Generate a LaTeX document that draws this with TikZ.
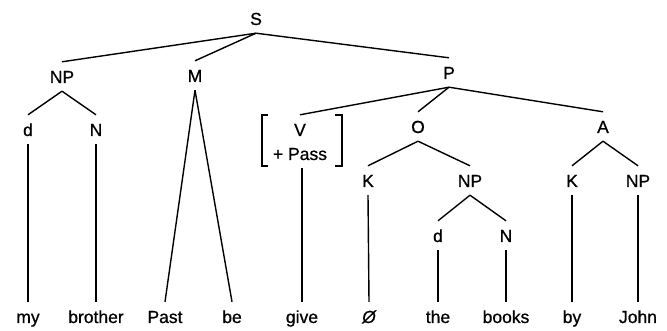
\documentclass[tikz,border=0pt]{standalone}
\usepackage{fontspec}
\setmainfont[FakeBold=0.8]{Liberation Sans}
\begin{document}
\begin{tikzpicture}[x=1pt,y=-1pt,
  lbl/.style={font=\fontsize{17.5}{20}\selectfont, inner sep=0pt, text height=21pt, text depth=8pt, anchor=base},
  edge/.style={line width=1.4pt},
  brk/.style={line width=1.4pt}]
\useasboundingbox (0,0) rectangle (667,331);
% internal nodes
\node[lbl] (S) at (256,25) {S};
\node[lbl] (NP1) at (62,83) {NP};
\node[lbl] (M) at (195,82) {M};
\node[lbl] (P) at (449,79) {P};
\node[lbl] (d1) at (28,136) {d};
\node[lbl] (N1) at (96,136) {N};
\node[lbl] (V) at (300,136) {V};
\node[lbl] (pass) at (300,160) {+ Pass};
\node[lbl] (O) at (418,133) {O};
\node[lbl] (A) at (603,133) {A};
\node[lbl] (K1) at (368,187) {K};
\node[lbl] (NP2) at (470,187) {NP};
\node[lbl] (K2) at (572,187) {K};
\node[lbl] (NP3) at (638,187) {NP};
\node[lbl] (d2) at (438,242) {d};
\node[lbl] (N2) at (506,242) {N};
% leaves
\node[lbl] (my) at (28,323) {my};
\node[lbl] (brother) at (96,323) {brother};
\node[lbl] (past) at (165,323) {Past};
\node[lbl] (be) at (232,323) {be};
\node[lbl] (give) at (302,323) {give};
\node[lbl] (null) at (369,323) {\itshape Ø};
\node[lbl] (the) at (438,323) {the};
\node[lbl] (books) at (506,323) {books};
\node[lbl] (by) at (572,323) {by};
\node[lbl] (john) at (638,323) {John};
% bracket
\draw[brk] (268,115) -- (262,115) -- (262,166) -- (268,166);
\draw[brk] (335,115) -- (342,115) -- (342,166) -- (335,166);
% edges
\draw[edge] (S.south) -- (NP1.north);
\draw[edge] (S.south) -- (M.north);
\draw[edge] (S.south) -- (P.north);
\draw[edge] (NP1.south) -- (d1.north);
\draw[edge] (NP1.south) -- (N1.north);
\draw[edge] (d1.south) -- (my.north);
\draw[edge] (N1.south) -- (brother.north);
\draw[edge] (M.south) -- (past.north);
\draw[edge] (M.south) -- (be.north);
\draw[edge] (P.south) -- (V.north);
\draw[edge] (P.south) -- (O.north);
\draw[edge] (P.south) -- (A.north);
\draw[edge] (pass.south -| give.north) -- (give.north);
\draw[edge] (O.south) -- (K1.north);
\draw[edge] (O.south) -- (NP2.north);
\draw[edge] (K1.south) -- (null.north);
\draw[edge] (NP2.south) -- (d2.north);
\draw[edge] (NP2.south) -- (N2.north);
\draw[edge] (d2.south) -- (the.north);
\draw[edge] (N2.south) -- (books.north);
\draw[edge] (A.south) -- (K2.north);
\draw[edge] (A.south) -- (NP3.north);
\draw[edge] (K2.south) -- (by.north);
\draw[edge] (NP3.south) -- (john.north);
\end{tikzpicture}
\end{document}
